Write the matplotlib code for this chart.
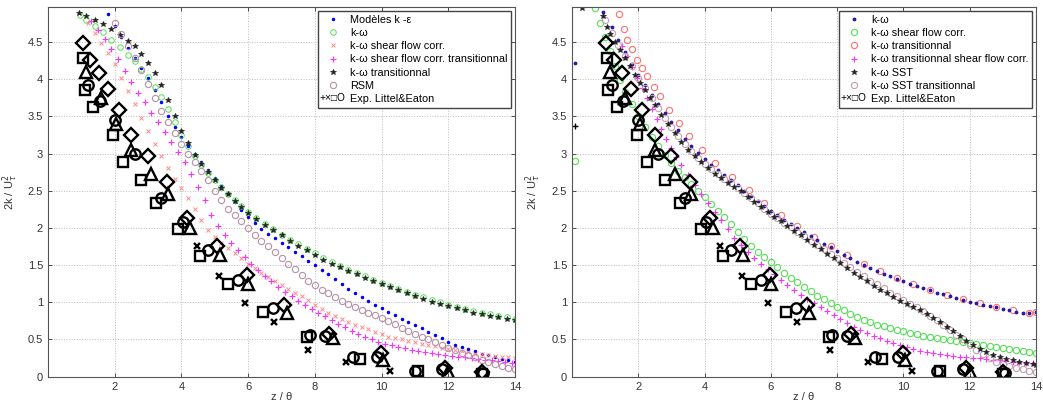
import matplotlib
matplotlib.use('Agg')
import matplotlib.pyplot as plt
import numpy as np
from matplotlib.legend_handler import HandlerBase
from matplotlib.text import Text
from matplotlib.lines import Line2D

plt.rcParams['font.family'] = ['Liberation Sans', 'DejaVu Sans']

# ---------------- donnees experimentales (Littel & Eaton) ----------------
exp_diamond = [(1.04, 4.49), (1.26, 4.26), (1.52, 4.08), (1.79, 3.87), (2.12, 3.59), (2.5, 3.25),
               (3.0, 2.97), (3.56, 2.62), (4.16, 2.13), (5.07, 1.75), (5.97, 1.37), (7.08, 0.96),
               (8.43, 0.58), (9.99, 0.32), (11.9, 0.12), (13.0, 0.06)]
exp_triangle = [(1.15, 4.1), (1.6, 3.75), (2.05, 3.4), (2.5, 3.05), (3.1, 2.72), (3.6, 2.45),
                (4.25, 2.0), (5.15, 1.63), (6.0, 1.25), (7.15, 0.86), (8.55, 0.52), (10.05, 0.22),
                (12.0, 0.06)]
exp_square = [(1.05, 4.28), (1.1, 3.86), (1.35, 3.62), (1.95, 3.25), (2.25, 2.88), (2.8, 2.64),
              (3.25, 2.33), (3.9, 1.99), (4.55, 1.62), (5.4, 1.24), (6.45, 0.87), (7.75, 0.54),
              (9.35, 0.24), (11.1, 0.08), (13.0, 0.04)]
exp_circle = [(1.2, 3.92), (1.55, 3.7), (2.0, 3.45), (2.6, 3.0), (3.4, 2.4), (4.05, 2.08),
              (4.8, 1.7), (5.7, 1.3), (6.75, 0.92), (7.85, 0.56), (8.3, 0.55), (9.15, 0.26),
              (9.85, 0.27), (11.0, 0.08), (11.8, 0.1), (13.05, 0.05)]
exp_cross = [(4.46, 1.75), (5.12, 1.36), (5.92, 0.99), (6.78, 0.73), (7.79, 0.36), (8.94, 0.2),
             (10.25, 0.07)]
exp_plus = [(0.1, 3.37)]

# ---------------- figure de gauche ----------------
ke_left = [(1.8, 4.87), (2.0, 4.72), (2.2, 4.57), (2.4, 4.42), (2.6, 4.28), (2.8, 4.15), (3.0, 4.02),
           (3.2, 3.86), (3.4, 3.69), (3.6, 3.5), (3.8, 3.35), (4.0, 3.22), (4.2, 3.1), (4.4, 2.99),
           (4.6, 2.89), (4.8, 2.78), (5.0, 2.67), (5.2, 2.56), (5.4, 2.45), (5.6, 2.35), (5.8, 2.24),
           (6.0, 2.14), (6.2, 2.06), (6.4, 1.99), (6.6, 1.92), (6.8, 1.86), (7.0, 1.8), (7.2, 1.74),
           (7.4, 1.68), (7.6, 1.62), (7.8, 1.56), (8.0, 1.5), (8.2, 1.44), (8.4, 1.38), (8.6, 1.31),
           (8.8, 1.25), (9.0, 1.18), (9.2, 1.12), (9.4, 1.07), (9.6, 1.02), (9.8, 0.97), (10.0, 0.92),
           (10.2, 0.87), (10.4, 0.83), (10.6, 0.78), (10.8, 0.74), (11.0, 0.69), (11.2, 0.65),
           (11.4, 0.6), (11.6, 0.56), (11.8, 0.52), (12.0, 0.47), (12.2, 0.43), (12.4, 0.4),
           (12.6, 0.37), (12.8, 0.34), (13.0, 0.31), (13.2, 0.29), (13.4, 0.27), (13.6, 0.24),
           (13.8, 0.22), (14.0, 0.2)]
kw_left = [(0.95, 4.86), (1.15, 4.8), (1.4, 4.72), (1.65, 4.63), (1.9, 4.53), (2.15, 4.43), (2.4, 4.33),
           (2.6, 4.24), (2.8, 4.14), (3.0, 4.03), (3.2, 3.9), (3.4, 3.76), (3.6, 3.6), (3.8, 3.42),
           (4.0, 3.25), (4.2, 3.1), (4.4, 2.96), (4.6, 2.84), (4.8, 2.74), (5.0, 2.64), (5.2, 2.55),
           (5.4, 2.46), (5.6, 2.37), (5.8, 2.29), (6.0, 2.21), (6.25, 2.13), (6.5, 2.05), (6.75, 1.98),
           (7.0, 1.91), (7.25, 1.84), (7.5, 1.78), (7.75, 1.72), (8.0, 1.66), (8.25, 1.6), (8.5, 1.54),
           (8.75, 1.49), (9.0, 1.44), (9.25, 1.39), (9.5, 1.35), (9.75, 1.3), (10.0, 1.26),
           (10.25, 1.22), (10.5, 1.18), (10.75, 1.14), (11.0, 1.1), (11.25, 1.07), (11.5, 1.03),
           (11.75, 1.0), (12.0, 0.97), (12.25, 0.94), (12.5, 0.91), (12.75, 0.88), (13.0, 0.86),
           (13.25, 0.84), (13.5, 0.82), (13.75, 0.8), (14.0, 0.78)]
kw_sfc_left = [(1.2, 4.75), (1.4, 4.62), (1.6, 4.49), (1.8, 4.35), (2.0, 4.2), (2.2, 4.02), (2.4, 3.84),
               (2.6, 3.66), (2.8, 3.48), (3.0, 3.3), (3.2, 3.13), (3.4, 2.96), (3.6, 2.8), (3.8, 2.66),
               (4.0, 2.54), (4.2, 2.4), (4.4, 2.25), (4.6, 2.1), (4.8, 1.97), (5.0, 1.88), (5.2, 1.8),
               (5.4, 1.73), (5.6, 1.66), (5.8, 1.59), (6.0, 1.52), (6.2, 1.46), (6.4, 1.4), (6.6, 1.34),
               (6.8, 1.28), (7.0, 1.23), (7.2, 1.18), (7.4, 1.13), (7.6, 1.08), (7.8, 1.03), (8.0, 0.97),
               (8.2, 0.91), (8.4, 0.86), (8.6, 0.82), (8.8, 0.78), (9.0, 0.74), (9.2, 0.7), (9.4, 0.67),
               (9.6, 0.64), (9.8, 0.6), (10.0, 0.57), (10.2, 0.54), (10.4, 0.52), (10.6, 0.5),
               (10.8, 0.48), (11.0, 0.46), (11.2, 0.44), (11.4, 0.43), (11.6, 0.41), (11.8, 0.39),
               (12.0, 0.37), (12.2, 0.36), (12.4, 0.34), (12.6, 0.33), (12.8, 0.31), (13.0, 0.3),
               (13.2, 0.29), (13.4, 0.28), (13.6, 0.27), (13.8, 0.26), (14.0, 0.25)]
kw_sfc_tr_left = [(1.3, 4.78), (1.5, 4.66), (1.7, 4.54), (1.9, 4.41), (2.1, 4.27), (2.3, 4.11), (2.5, 3.96),
                  (2.7, 3.82), (2.9, 3.69), (3.1, 3.55), (3.3, 3.42), (3.5, 3.29), (3.7, 3.16), (3.9, 3.02),
                  (4.1, 2.88), (4.3, 2.72), (4.5, 2.55), (4.7, 2.37), (4.9, 2.18), (5.1, 2.03), (5.3, 1.91),
                  (5.5, 1.8), (5.7, 1.7), (5.9, 1.61), (6.1, 1.52), (6.3, 1.43), (6.5, 1.35), (6.7, 1.28),
                  (6.9, 1.21), (7.1, 1.14), (7.3, 1.08), (7.5, 1.02), (7.7, 0.97), (7.9, 0.91), (8.1, 0.86),
                  (8.3, 0.81), (8.5, 0.76), (8.7, 0.71), (8.9, 0.67), (9.1, 0.62), (9.3, 0.58), (9.5, 0.54),
                  (9.7, 0.5), (9.9, 0.47), (10.1, 0.44), (10.3, 0.42), (10.5, 0.4), (10.7, 0.38),
                  (10.9, 0.36), (11.1, 0.35), (11.3, 0.33), (11.5, 0.32), (11.7, 0.3), (11.9, 0.29),
                  (12.1, 0.28), (12.3, 0.27), (12.5, 0.26), (12.7, 0.25), (12.9, 0.24), (13.1, 0.23),
                  (13.3, 0.22), (13.5, 0.21), (13.7, 0.2), (13.9, 0.19), (14.0, 0.19)]
kw_tr_left = [(0.92, 4.89), (1.15, 4.85), (1.4, 4.8), (1.65, 4.74), (1.9, 4.67), (2.15, 4.59), (2.4, 4.51),
              (2.6, 4.44), (2.8, 4.34), (3.0, 4.22), (3.2, 4.08), (3.4, 3.92), (3.6, 3.72), (3.8, 3.5),
              (4.0, 3.3), (4.2, 3.14), (4.4, 2.98), (4.6, 2.86), (4.8, 2.75), (5.0, 2.64), (5.2, 2.54),
              (5.4, 2.45), (5.6, 2.36), (5.8, 2.28), (6.0, 2.2), (6.25, 2.12), (6.5, 2.04), (6.75, 1.97),
              (7.0, 1.9), (7.25, 1.83), (7.5, 1.76), (7.75, 1.7), (8.0, 1.64), (8.25, 1.57), (8.5, 1.52),
              (8.75, 1.47), (9.0, 1.42), (9.25, 1.38), (9.5, 1.33), (9.75, 1.28), (10.0, 1.24),
              (10.25, 1.2), (10.5, 1.16), (10.75, 1.12), (11.0, 1.08), (11.25, 1.05), (11.5, 1.01),
              (11.75, 0.98), (12.0, 0.95), (12.25, 0.92), (12.5, 0.89), (12.75, 0.86), (13.0, 0.84),
              (13.25, 0.82), (13.5, 0.8), (13.75, 0.78), (14.0, 0.76)]
rsm_left = [(2.0, 4.75), (2.2, 4.6), (2.4, 4.44), (2.6, 4.28), (2.8, 4.12), (3.0, 3.94), (3.2, 3.74),
            (3.4, 3.57), (3.6, 3.42), (3.8, 3.27), (4.0, 3.13), (4.2, 3.0), (4.4, 2.88), (4.6, 2.77),
            (4.8, 2.64), (5.0, 2.5), (5.2, 2.37), (5.4, 2.26), (5.6, 2.17), (5.8, 2.09), (6.0, 2.0),
            (6.2, 1.91), (6.4, 1.83), (6.6, 1.75), (6.8, 1.68), (7.0, 1.6), (7.2, 1.52), (7.4, 1.45),
            (7.6, 1.37), (7.8, 1.29), (8.0, 1.23), (8.2, 1.17), (8.4, 1.12), (8.6, 1.07), (8.8, 1.02),
            (9.0, 0.98), (9.2, 0.94), (9.4, 0.9), (9.6, 0.86), (9.8, 0.83), (10.0, 0.79), (10.2, 0.75),
            (10.4, 0.71), (10.6, 0.66), (10.8, 0.62), (11.0, 0.58), (11.2, 0.54), (11.4, 0.5),
            (11.6, 0.46), (11.8, 0.43), (12.0, 0.39), (12.2, 0.36), (12.4, 0.32), (12.6, 0.29),
            (12.8, 0.26), (13.0, 0.23), (13.2, 0.2), (13.4, 0.17), (13.6, 0.14), (13.8, 0.12),
            (14.0, 0.1)]

# ---------------- figure de droite ----------------
kw_right = [(0.1, 4.22), (0.95, 4.9), (1.2, 4.7), (1.4, 4.52), (1.6, 4.36), (1.8, 4.2), (2.0, 4.05),
            (2.2, 3.92), (2.4, 3.79), (2.6, 3.66), (2.8, 3.54), (3.0, 3.42), (3.2, 3.31), (3.4, 3.2),
            (3.6, 3.1), (3.8, 3.01), (4.0, 2.93), (4.2, 2.85), (4.4, 2.78), (4.6, 2.71), (4.8, 2.64),
            (5.0, 2.57), (5.2, 2.5), (5.4, 2.43), (5.6, 2.36), (5.8, 2.3), (6.0, 2.23), (6.2, 2.17),
            (6.4, 2.11), (6.6, 2.05), (6.8, 2.0), (7.0, 1.94), (7.2, 1.89), (7.4, 1.84), (7.6, 1.79),
            (7.8, 1.74), (8.0, 1.69), (8.2, 1.64), (8.4, 1.59), (8.6, 1.54), (8.8, 1.5), (9.0, 1.46),
            (9.2, 1.42), (9.4, 1.38), (9.6, 1.35), (9.8, 1.31), (10.0, 1.28), (10.2, 1.25), (10.4, 1.22),
            (10.6, 1.19), (10.8, 1.16), (11.0, 1.13), (11.2, 1.11), (11.4, 1.08), (11.6, 1.06),
            (11.8, 1.03), (12.0, 1.01), (12.2, 0.99), (12.4, 0.97), (12.6, 0.95), (12.8, 0.93),
            (13.0, 0.91), (13.2, 0.89), (13.4, 0.87), (13.6, 0.85), (13.8, 0.85), (14.0, 0.87)]
kw_sfc_right = [(0.1, 2.9), (0.7, 4.95), (0.85, 4.75), (1.0, 4.57), (1.15, 4.38), (1.3, 4.18), (1.45, 3.99),
                (1.6, 3.83), (1.8, 3.66), (2.0, 3.5), (2.2, 3.35), (2.4, 3.22), (2.6, 3.1), (2.8, 2.98),
                (3.0, 2.87), (3.2, 2.77), (3.4, 2.68), (3.6, 2.59), (3.8, 2.5), (4.0, 2.41), (4.2, 2.32),
                (4.4, 2.23), (4.6, 2.14), (4.8, 2.05), (5.0, 1.95), (5.2, 1.85), (5.4, 1.76), (5.6, 1.68),
                (5.8, 1.61), (6.0, 1.54), (6.2, 1.47), (6.4, 1.4), (6.6, 1.33), (6.8, 1.27), (7.0, 1.21),
                (7.2, 1.15), (7.4, 1.09), (7.6, 1.04), (7.8, 0.99), (8.0, 0.94), (8.2, 0.89), (8.4, 0.84),
                (8.6, 0.8), (8.8, 0.76), (9.0, 0.73), (9.2, 0.7), (9.4, 0.68), (9.6, 0.65), (9.8, 0.63),
                (10.0, 0.61), (10.2, 0.59), (10.4, 0.57), (10.6, 0.55), (10.8, 0.54), (11.0, 0.52),
                (11.2, 0.5), (11.4, 0.49), (11.6, 0.48), (11.8, 0.46), (12.0, 0.45), (12.2, 0.44),
                (12.4, 0.43), (12.6, 0.41), (12.8, 0.4), (13.0, 0.39), (13.2, 0.37), (13.4, 0.36),
                (13.6, 0.35), (13.8, 0.33), (14.0, 0.32)]
kw_tr_right = [(1.41, 4.87), (1.56, 4.67), (1.66, 4.53), (1.81, 4.4), (1.97, 4.26), (2.12, 4.15),
               (2.27, 4.04), (2.47, 3.9), (2.67, 3.77), (2.93, 3.59), (3.23, 3.41), (3.53, 3.23),
               (3.93, 3.05), (4.33, 2.87), (4.84, 2.69), (5.34, 2.51), (5.8, 2.33), (6.3, 2.17),
               (6.8, 2.02), (7.3, 1.88), (7.8, 1.75), (8.3, 1.63), (8.8, 1.51), (9.3, 1.42), (9.8, 1.33),
               (10.3, 1.25), (10.8, 1.17), (11.3, 1.1), (11.8, 1.04), (12.3, 0.99), (12.8, 0.94),
               (13.3, 0.89), (13.8, 0.86), (14.0, 0.87)]
kw_tr_sfc_right = [(1.5, 4.45), (1.65, 4.31), (1.8, 4.16), (1.95, 4.02), (2.1, 3.88), (2.25, 3.74),
                   (2.4, 3.6), (2.55, 3.46), (2.7, 3.33), (2.85, 3.2), (3.0, 3.07), (3.15, 2.95),
                   (3.3, 2.84), (3.5, 2.71), (3.7, 2.58), (3.9, 2.46), (4.1, 2.34), (4.3, 2.22), (4.5, 2.1),
                   (4.7, 1.98), (4.9, 1.87), (5.1, 1.77), (5.3, 1.67), (5.5, 1.6), (5.7, 1.52), (5.9, 1.45),
                   (6.1, 1.38), (6.3, 1.3), (6.5, 1.23), (6.7, 1.17), (6.9, 1.1), (7.1, 1.04), (7.3, 0.99),
                   (7.5, 0.93), (7.7, 0.88), (7.9, 0.83), (8.1, 0.77), (8.3, 0.72), (8.5, 0.67), (8.7, 0.63),
                   (8.9, 0.59), (9.1, 0.55), (9.3, 0.52), (9.5, 0.48), (9.7, 0.45), (9.9, 0.42), (10.1, 0.4),
                   (10.3, 0.37), (10.5, 0.35), (10.7, 0.33), (10.9, 0.32), (11.1, 0.3), (11.3, 0.29),
                   (11.5, 0.28), (11.7, 0.27), (11.9, 0.26), (12.1, 0.25), (12.3, 0.25), (12.5, 0.24),
                   (12.7, 0.23), (12.9, 0.22), (13.1, 0.21), (13.3, 0.2), (13.5, 0.2), (13.7, 0.19),
                   (13.9, 0.18), (14.0, 0.18)]
sst_right = [(0.3, 4.96), (0.95, 4.85), (1.05, 4.7), (1.15, 4.6), (1.3, 4.5), (1.45, 4.39), (1.6, 4.28),
             (1.75, 4.17), (1.9, 4.06), (2.05, 3.95), (2.2, 3.85), (2.35, 3.75), (2.5, 3.65), (2.7, 3.52),
             (2.9, 3.39), (3.1, 3.27), (3.3, 3.16), (3.5, 3.05), (3.7, 2.96), (3.9, 2.88), (4.1, 2.8),
             (4.3, 2.73), (4.5, 2.67), (4.7, 2.61), (4.9, 2.55), (5.1, 2.49), (5.3, 2.42), (5.5, 2.35),
             (5.7, 2.28), (5.9, 2.21), (6.1, 2.15), (6.3, 2.09), (6.5, 2.02), (6.7, 1.96), (6.9, 1.9),
             (7.1, 1.84), (7.3, 1.77), (7.5, 1.71), (7.7, 1.65), (7.9, 1.59), (8.1, 1.53), (8.3, 1.46),
             (8.5, 1.4), (8.7, 1.34), (8.9, 1.28), (9.1, 1.22), (9.3, 1.17), (9.5, 1.12), (9.7, 1.07),
             (9.9, 1.02), (10.1, 0.98), (10.3, 0.94), (10.5, 0.89), (10.7, 0.84), (10.9, 0.79),
             (11.1, 0.73), (11.3, 0.67), (11.5, 0.61), (11.7, 0.55), (11.9, 0.48), (12.1, 0.42),
             (12.3, 0.37), (12.5, 0.33), (12.7, 0.29), (12.9, 0.26), (13.1, 0.24), (13.3, 0.22),
             (13.5, 0.2), (13.7, 0.18), (13.9, 0.17), (14.0, 0.16)]
sst_tr_right = [(1.0, 4.8), (1.2, 4.62), (1.4, 4.46), (1.6, 4.31), (1.8, 4.17), (2.0, 4.02), (2.2, 3.88),
                (2.4, 3.74), (2.6, 3.61), (2.8, 3.48), (3.0, 3.36), (3.2, 3.24), (3.4, 3.13), (3.6, 3.03),
                (3.8, 2.94), (4.0, 2.86), (4.2, 2.79), (4.4, 2.72), (4.6, 2.66), (4.8, 2.6), (5.0, 2.54),
                (5.2, 2.47), (5.4, 2.4), (5.6, 2.33), (5.8, 2.26), (6.0, 2.19), (6.2, 2.13), (6.4, 2.07),
                (6.6, 2.01), (6.8, 1.95), (7.0, 1.89), (7.2, 1.83), (7.4, 1.77), (7.6, 1.71), (7.8, 1.65),
                (8.0, 1.59), (8.2, 1.53), (8.4, 1.47), (8.6, 1.41), (8.8, 1.35), (9.0, 1.29), (9.2, 1.24),
                (9.4, 1.19), (9.6, 1.13), (9.8, 1.08), (10.0, 1.03), (10.2, 0.98), (10.4, 0.93),
                (10.6, 0.88), (10.8, 0.82), (11.0, 0.76), (11.2, 0.7), (11.4, 0.63), (11.6, 0.56),
                (11.8, 0.5), (12.0, 0.43), (12.2, 0.36), (12.4, 0.3), (12.6, 0.25), (12.8, 0.2),
                (13.0, 0.17), (13.2, 0.14), (13.4, 0.12), (13.6, 0.1), (13.8, 0.08), (14.0, 0.06)]

labels_left = ['Modèles k -ε', 'k-ω', 'k-ω shear flow corr.', 'k-ω shear flow corr. transitionnal',
               'k-ω transitionnal', 'RSM']
labels_right = ['k-ω', 'k-ω shear flow corr.', 'k-ω transitionnal', 'k-ω transitionnal shear flow corr.',
                'k-ω SST', 'k-ω SST transitionnal']
exp_label = 'Exp. Littel&Eaton'
xticks = [2, 4, 6, 8, 10, 12, 14]
yticks = [0, 0.5, 1, 1.5, 2, 2.5, 3, 3.5, 4, 4.5]


class TextHandler(HandlerBase):
    # symboles des donnees exp. ecrits en texte a la place du marqueur
    def create_artists(self, legend, orig_handle, xdescent, ydescent, width, height, fontsize, trans):
        t = Text(-xdescent - 2, height / 2 - ydescent, '+×□O', fontsize=fontsize - 0.5,
                 ha='left', va='center', transform=trans, family=['Liberation Sans', 'DejaVu Sans'])
        return [t]


def pts(lst):
    a = np.array(lst)
    return a[:, 0], a[:, 1]


def draw_exp(ax):
    kw = dict(ls='none', mfc='none', mec='black', mew=1.7)
    ax.plot(*pts(exp_square), marker='s', ms=6.5, **kw)
    ax.plot(*pts(exp_circle), marker='o', ms=7.5, **kw)
    ax.plot(*pts(exp_triangle), marker='^', ms=8.5, **kw)
    ax.plot(*pts(exp_diamond), marker='D', ms=7, **kw)
    ax.plot(*pts(exp_cross), marker='x', ms=4.5, **kw)


def style(ax):
    ax.set_xlim(0, 14)
    ax.set_ylim(0, 4.97)
    ax.set_xticks(xticks)
    ax.set_yticks(yticks)
    ax.set_yticklabels(['%g' % v for v in yticks])
    ax.grid(True, linestyle=':', color='#bdbdbd', linewidth=0.7)
    ax.tick_params(direction='in', top=True, right=True, length=3, labelsize=8, colors='#333333',
                   width=0.6)
    for s in ax.spines.values():
        s.set_linewidth(0.8)
        s.set_color('#555555')
    ax.set_xlabel('z / θ', fontsize=8, color='#333333')
    ax.set_ylabel('2k / U$^2_{\\tau}$', fontsize=8, color='#333333')
    ax.xaxis.set_label_coords(0.5, -0.042)


def add_legend(ax, handles, labels):
    dummy = Line2D([], [])
    ax.legend(handles + [dummy], labels + [exp_label], handler_map={dummy: TextHandler()},
              loc='upper right', fontsize=7.8, frameon=True, fancybox=False, edgecolor='#444444',
              framealpha=1, borderpad=0.35, labelspacing=0.3, handlelength=2.0, handletextpad=0.6,
              borderaxespad=0.35)


fig = plt.figure(figsize=(10.43, 4.07), dpi=100)
ax1 = fig.add_axes([0.046, 0.0745, 0.4478, 0.9084])
ax2 = fig.add_axes([0.5484, 0.0745, 0.4449, 0.9084])

# gauche
h1 = []
h1 += ax1.plot(*pts(ke_left), ls='none', marker='.', ms=3, color='#0000ff')
h1 += ax1.plot(*pts(kw_left), ls='none', marker='o', ms=4, mfc='none', mec='#55e055', mew=0.7)
h1 += ax1.plot(*pts(kw_sfc_left), ls='none', marker='x', ms=3.5, color='#ff8a8a', mew=0.7)
h1 += ax1.plot(*pts(kw_sfc_tr_left), ls='none', marker='+', ms=4, color='#ff33ff', mew=0.8)
h1 += ax1.plot(*pts(kw_tr_left), ls='none', marker='*', ms=4, color='#222222', mew=0.5)
h1 += ax1.plot(*pts(rsm_left), ls='none', marker='o', ms=4.5, mfc='none', mec='#b890a8', mew=0.8)
draw_exp(ax1)
style(ax1)
ax1.yaxis.set_label_coords(-0.06, 0.5)
add_legend(ax1, h1, labels_left)

# droite
h2 = []
h2 += ax2.plot(*pts(kw_tr_right), ls='none', marker='o', ms=4.5, mfc='none', mec='#ff7070', mew=0.8)
h2 += ax2.plot(*pts(kw_right), ls='none', marker='.', ms=3.5, color='#2a1aa0')
h2 += ax2.plot(*pts(kw_sfc_right), ls='none', marker='o', ms=4.5, mfc='none', mec='#55e055', mew=0.8)
h2 += ax2.plot(*pts(kw_tr_sfc_right), ls='none', marker='+', ms=4, color='#ff33ff', mew=0.8)
h2 += ax2.plot(*pts(sst_tr_right), ls='none', marker='o', ms=4.5, mfc='none', mec='#c0a0b0', mew=0.8)
h2 += ax2.plot(*pts(sst_right), ls='none', marker='*', ms=4, color='#222222', mew=0.5)
ax2.plot(*pts(exp_plus), ls='none', marker='+', ms=4, color='black', mew=1.0)
draw_exp(ax2)
style(ax2)
ax2.yaxis.set_label_coords(-0.062, 0.5)
add_legend(ax2, [h2[1], h2[2], h2[0], h2[3], h2[5], h2[4]], labels_right)

fig.savefig('out.png', dpi=100)
